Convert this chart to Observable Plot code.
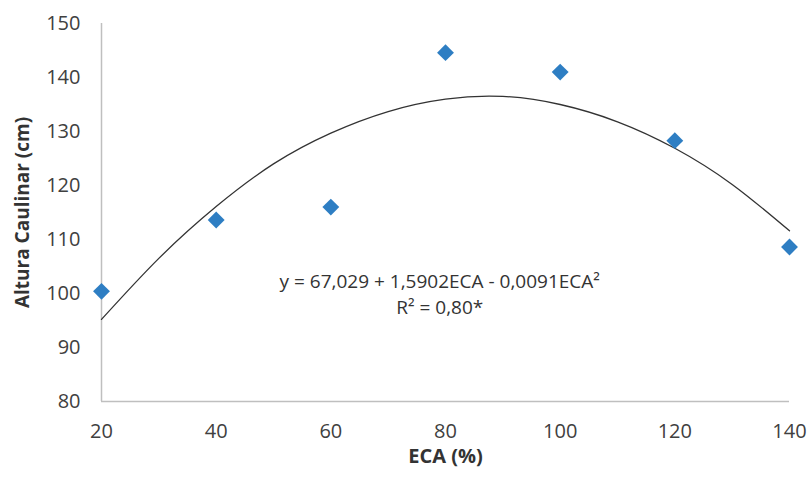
<!DOCTYPE html>
<html>
<head>
<meta charset="utf-8">
<script src="https://cdn.jsdelivr.net/npm/d3@7"></script>
<script src="https://cdn.jsdelivr.net/npm/@observablehq/plot@0.6"></script>
<style>
  html, body { margin: 0; padding: 0; background: #fff; }
</style>
</head>
<body>
<div id="chart"></div>
<script>
// Observed points
const eca = [20, 40, 60, 80, 100, 120, 140];
const altura = [100.4, 113.6, 116.0, 144.6, 141.0, 128.3, 108.6];

// Trend curve
const curveX = [20, 30, 40, 50, 60, 70, 80, 90, 100, 110, 120, 130, 140];
const curveY = [95.2, 106.5, 116.1, 124.0, 129.7, 133.7, 136.0, 136.5, 135.0, 131.8, 126.9, 120.2, 111.6];

const xTicks = [20, 40, 60, 80, 100, 120, 140];
const yTicks = [80, 90, 100, 110, 120, 130, 140, 150];

// Equation annotation (two lines, placed in data coordinates)
const eqLines = ["y = 67,029 + 1,5902ECA - 0,0091ECA²", "R² = 0,80*"];
const eqX = [79, 79];
const eqY = [102.2, 97.35];

const points = eca.map((x, i) => ({x, y: altura[i]}));
const curve = curveX.map((x, i) => ({x, y: curveY[i]}));
const eq = eqLines.map((t, i) => ({t, x: eqX[i], y: eqY[i]}));

const chart = Plot.plot({
  width: 811,
  height: 482,
  marginLeft: 101,
  marginRight: 22,
  marginTop: 23,
  marginBottom: 81,
  x: {domain: [20, 140]},
  y: {domain: [80, 150]},
  style: {fontFamily: "'Open Sans', sans-serif", fontSize: "20px", color: "#404040", background: "#fff"},
  marks: [
    Plot.ruleX([20], {stroke: "#bfbfbf", strokeWidth: 1.5}),
    Plot.ruleY([80], {stroke: "#bfbfbf", strokeWidth: 1.5}),
    Plot.axisX({ticks: xTicks, tickSize: 0, tickPadding: 22, label: null, fontSize: 20, fill: "#404040"}),
    Plot.axisY({ticks: yTicks, tickSize: 0, tickPadding: 21, label: null, fontSize: 20, fill: "#404040"}),
    Plot.line(curve, {x: "x", y: "y", curve: "natural", stroke: "#333", strokeWidth: 1.3}),
    Plot.dot(points, {x: "x", y: "y", symbol: "diamond2", r: 7.6, fill: "#2e7ec3", stroke: "none"}),
    Plot.text(eq, {x: "x", y: "y", text: "t", fontSize: 19, fill: "#333", textAnchor: "middle"}),
    Plot.text(["Altura Caulinar (cm)"], {frameAnchor: "left", dx: -79, rotate: -90, textAnchor: "middle", text: d => d, fontWeight: "bold", fontSize: 19, fill: "#333"}),
    Plot.text(["ECA (%)"], {frameAnchor: "bottom", dy: 61, textAnchor: "middle", text: d => d, fontWeight: "bold", fontSize: 20, fill: "#333"})
  ]
});
document.getElementById("chart").appendChild(chart);
</script>
</body>
</html>
